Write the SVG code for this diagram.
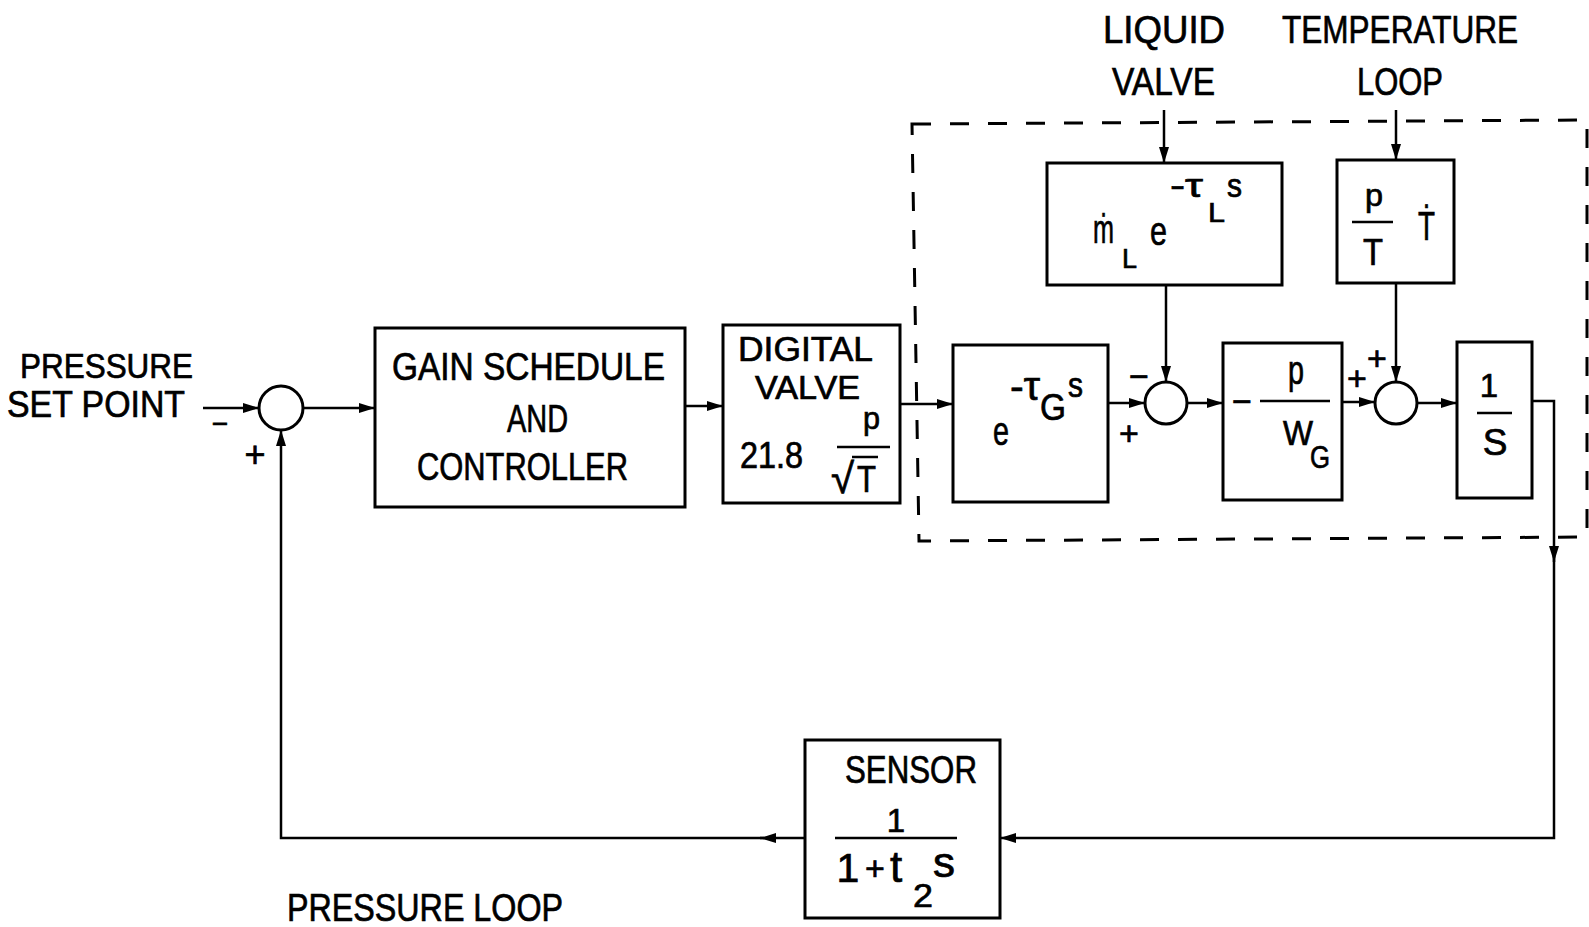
<svg xmlns="http://www.w3.org/2000/svg" width="1589" height="927" viewBox="0 0 1589 927">
<style>
.t{font-family:"Liberation Sans",Arial,sans-serif;fill:#000;stroke:#000;stroke-width:0.7}
.box{fill:#fff;stroke:#000;stroke-width:3}
.ln{fill:none;stroke:#000;stroke-width:2.5}
.arr{fill:none;stroke:#000;stroke-width:2.5;marker-end:url(#ah)}
.bar{stroke:#000;stroke-width:2.5}
.dash{fill:none;stroke:#000;stroke-width:3;stroke-dasharray:19 19}
.sum{fill:#fff;stroke:#000;stroke-width:3}
</style>
<defs>
<marker id="ah" markerUnits="userSpaceOnUse" viewBox="0 0 16 12" refX="16" refY="6" markerWidth="16" markerHeight="12" orient="auto">
<path d="M0,1 L16,6 L0,11 z" fill="#000"/>
</marker>
</defs>
<rect width="1589" height="927" fill="#fff"/>

<g id="plant-boundary">
<path class="dash" d="M912,124 L1587,120 L1587,537 L919,541 Z"/>
</g>

<g id="connectors">
<path class="arr" d="M203,408 L259,408"/>
<path class="arr" d="M303,408 L375,408"/>
<path class="arr" d="M685,406 L723,406"/>
<path class="arr" d="M900,404 L953,404"/>
<path class="arr" d="M1108,403 L1145,403"/>
<path class="arr" d="M1164,110 L1164,163"/>
<path class="arr" d="M1166,285 L1166,382"/>
<path class="arr" d="M1187,403 L1223,403"/>
<path class="arr" d="M1396,110 L1396,160"/>
<path class="arr" d="M1396,283 L1396,382"/>
<path class="arr" d="M1342,402 L1375,402"/>
<path class="arr" d="M1417,403 L1457,403"/>
<path class="arr" d="M1532,401 L1554,401 L1554,562"/>
<path class="arr" d="M1554,556 L1554,838 L1000,838"/>
<path class="arr" d="M805,838 L760,838"/>
<path class="arr" d="M764,838 L281,838 L281,430"/>
</g>

<g id="setpoint-input">
<text class="t" x="20" y="378" font-size="35" textLength="173" lengthAdjust="spacingAndGlyphs">PRESSURE</text>
<text class="t" x="7" y="417" font-size="37" textLength="178" lengthAdjust="spacingAndGlyphs">SET POINT</text>
<text class="t" x="220" y="433" font-size="28" text-anchor="middle">−</text>
</g>

<g id="sum1">
<circle class="sum" cx="281" cy="408" r="22"/>
<text class="t" x="255" y="467" font-size="36" text-anchor="middle">+</text>
</g>

<g id="gain-schedule">
<rect class="box" x="375" y="328" width="310" height="179"/>
<text class="t" x="392" y="380" font-size="38" textLength="273" lengthAdjust="spacingAndGlyphs">GAIN SCHEDULE</text>
<text class="t" x="507" y="432" font-size="38" textLength="61" lengthAdjust="spacingAndGlyphs">AND</text>
<text class="t" x="417" y="480" font-size="38" textLength="211" lengthAdjust="spacingAndGlyphs">CONTROLLER</text>
</g>

<g id="digital-valve">
<rect class="box" x="723" y="325" width="177" height="178"/>
<text class="t" x="738" y="361" font-size="35" textLength="135" lengthAdjust="spacingAndGlyphs">DIGITAL</text>
<text class="t" x="755" y="399" font-size="33" textLength="105" lengthAdjust="spacingAndGlyphs">VALVE</text>
<text class="t" x="740" y="468" font-size="36" textLength="63" lengthAdjust="spacingAndGlyphs">21.8</text>
<text class="t" x="863" y="429" font-size="32" textLength="17" lengthAdjust="spacingAndGlyphs">p</text>
<line class="bar" x1="837" y1="447" x2="890" y2="447"/>
<text class="t" x="831" y="493" font-size="42">√</text>
<line class="bar" x1="852" y1="457" x2="878" y2="457"/>
<text class="t" x="857" y="492" font-size="36" textLength="19" lengthAdjust="spacingAndGlyphs">T</text>
</g>

<g id="gas-delay">
<rect class="box" x="953" y="345" width="155" height="157"/>
<text class="t" x="993" y="445" font-size="40" textLength="16" lengthAdjust="spacingAndGlyphs">e</text>
<text class="t" x="1010" y="400" font-size="40" textLength="30" lengthAdjust="spacingAndGlyphs">-τ</text>
<text class="t" x="1040" y="420" font-size="37" textLength="26" lengthAdjust="spacingAndGlyphs">G</text>
<text class="t" x="1068" y="397" font-size="35" textLength="15" lengthAdjust="spacingAndGlyphs">s</text>
</g>

<g id="liquid-valve-label">
<text class="t" x="1103" y="43" font-size="39" textLength="122" lengthAdjust="spacingAndGlyphs">LIQUID</text>
<text class="t" x="1112" y="95" font-size="39" textLength="103" lengthAdjust="spacingAndGlyphs">VALVE</text>
</g>

<g id="liquid-delay">
<rect class="box" x="1047" y="163" width="235" height="122"/>
<text class="t" x="1093" y="243" font-size="40" textLength="21" lengthAdjust="spacingAndGlyphs">ṁ</text>
<text class="t" x="1122" y="268" font-size="28" textLength="15" lengthAdjust="spacingAndGlyphs">L</text>
<text class="t" x="1150" y="245" font-size="40" textLength="17" lengthAdjust="spacingAndGlyphs">e</text>
<text class="t" x="1170" y="197" font-size="33" textLength="33" lengthAdjust="spacingAndGlyphs">-τ</text>
<text class="t" x="1208" y="222" font-size="28" textLength="17" lengthAdjust="spacingAndGlyphs">L</text>
<text class="t" x="1227" y="197" font-size="33" textLength="15" lengthAdjust="spacingAndGlyphs">s</text>
</g>

<g id="sum2">
<circle class="sum" cx="1166" cy="403" r="21"/>
<text class="t" x="1139" y="388" font-size="34" text-anchor="middle">−</text>
<text class="t" x="1129" y="445" font-size="34" text-anchor="middle">+</text>
</g>

<g id="gas-gain">
<rect class="box" x="1223" y="343" width="119" height="157"/>
<text class="t" x="1242" y="413" font-size="34" text-anchor="middle">−</text>
<line class="bar" x1="1260" y1="401" x2="1330" y2="401"/>
<text class="t" x="1288" y="384" font-size="40" textLength="16" lengthAdjust="spacingAndGlyphs">p</text>
<text class="t" x="1283" y="445" font-size="35" textLength="30" lengthAdjust="spacingAndGlyphs">W</text>
<text class="t" x="1310" y="468" font-size="32" textLength="20" lengthAdjust="spacingAndGlyphs">G</text>
</g>

<g id="temperature-loop-label">
<text class="t" x="1282" y="43" font-size="39" textLength="236" lengthAdjust="spacingAndGlyphs">TEMPERATURE</text>
<text class="t" x="1357" y="95" font-size="39" textLength="86" lengthAdjust="spacingAndGlyphs">LOOP</text>
</g>

<g id="temperature-block">
<rect class="box" x="1337" y="160" width="117" height="123"/>
<text class="t" x="1365" y="206" font-size="32" textLength="18" lengthAdjust="spacingAndGlyphs">p</text>
<line class="bar" x1="1352" y1="222" x2="1393" y2="222"/>
<text class="t" x="1363" y="265" font-size="37" textLength="20" lengthAdjust="spacingAndGlyphs">T</text>
<text class="t" x="1418" y="240" font-size="40" textLength="17" lengthAdjust="spacingAndGlyphs">Ṫ</text>
</g>

<g id="sum3">
<circle class="sum" cx="1396" cy="403" r="21"/>
<text class="t" x="1357" y="390" font-size="34" text-anchor="middle">+</text>
<text class="t" x="1377" y="370" font-size="34" text-anchor="middle">+</text>
</g>

<g id="integrator">
<rect class="box" x="1457" y="342" width="75" height="156"/>
<text class="t" x="1489" y="397" font-size="33" text-anchor="middle">1</text>
<line class="bar" x1="1477" y1="413" x2="1512" y2="413"/>
<text class="t" x="1495" y="455" font-size="37" text-anchor="middle">S</text>
</g>

<g id="sensor">
<rect class="box" x="805" y="740" width="195" height="178"/>
<text class="t" x="845" y="783" font-size="38" textLength="132" lengthAdjust="spacingAndGlyphs">SENSOR</text>
<text class="t" x="896" y="832" font-size="33" text-anchor="middle">1</text>
<line class="bar" x1="835" y1="838" x2="957" y2="838"/>
<text class="t" x="848" y="882" font-size="41" text-anchor="middle">1</text>
<text class="t" x="875" y="880" font-size="34" text-anchor="middle">+</text>
<text class="t" x="890" y="882" font-size="44">t</text>
<text class="t" x="913" y="907" font-size="34" textLength="20" lengthAdjust="spacingAndGlyphs">2</text>
<text class="t" x="933" y="877" font-size="42" textLength="22" lengthAdjust="spacingAndGlyphs">s</text>
</g>

<g id="pressure-loop-label">
<text class="t" x="287" y="921" font-size="39" textLength="276" lengthAdjust="spacingAndGlyphs">PRESSURE LOOP</text>
</g>
</svg>
